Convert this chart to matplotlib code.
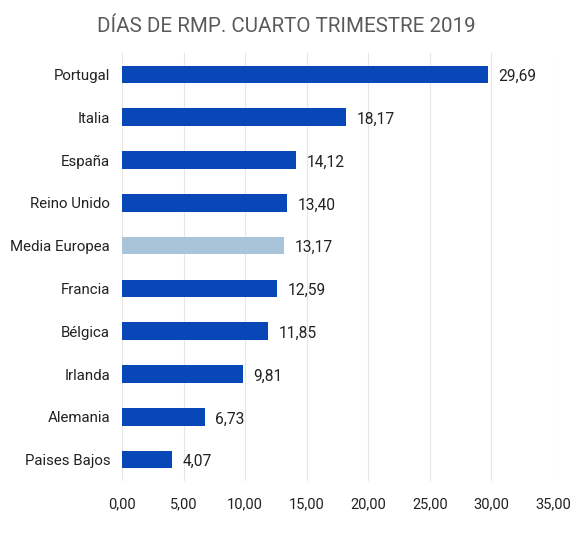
import matplotlib
matplotlib.use("Agg")
import matplotlib.pyplot as plt

categories = ["Portugal", "Italia", "España", "Reino Unido", "Media Europea",
              "Francia", "Bélgica", "Irlanda", "Alemania", "Paises Bajos"]
values = [29.69, 18.17, 14.12, 13.40, 13.17, 12.59, 11.85, 9.81, 6.73, 4.07]
highlight = "Media Europea"
title = "DÍAS DE RMP. CUARTO TRIMESTRE 2019"
xticks = [0, 5, 10, 15, 20, 25, 30, 35]

plt.rcParams['font.family'] = ['Roboto', 'DejaVu Sans']

fig = plt.figure(figsize=(5.82, 5.4), dpi=100)
ax = fig.add_axes([122/582, 1-481/540, (553-122)/582, (481-53)/540])

dark = "#0847B8"
light = "#A9C3D8"
colors = [light if c == highlight else dark for c in categories]
ypos = list(range(len(categories)))
ax.barh(ypos, values, height=0.41, color=colors, zorder=3)
for y, v in zip(ypos, values):
    ax.text(v + 0.85, y + 0.05, f"{v:.2f}".replace(".", ","), va="center", ha="left",
            fontsize=11.2, color="#222222")

ax.set_yticks(ypos)
ax.set_yticklabels(categories, fontsize=10.8, color="#222222")
ax.set_ylim(len(categories) - 0.5, -0.5)
ax.set_xlim(0, 35)
ax.set_xticks(xticks)
ax.set_xticklabels([f"{t:.2f}".replace(".", ",") for t in xticks], fontsize=10.5, color="#222222")
ax.tick_params(axis="both", length=0)
ax.tick_params(axis="y", pad=8.5)
ax.tick_params(axis="x", pad=12)
ax.grid(axis="x", color="#E6E6E6", linewidth=0.8, zorder=0)
for s in ax.spines.values():
    s.set_visible(False)

fig.text(0.492, 1-26/540, title, ha="center", va="center", fontsize=14.8, color="#5A5A5A")
fig.savefig("out.png", dpi=100, facecolor="white")
